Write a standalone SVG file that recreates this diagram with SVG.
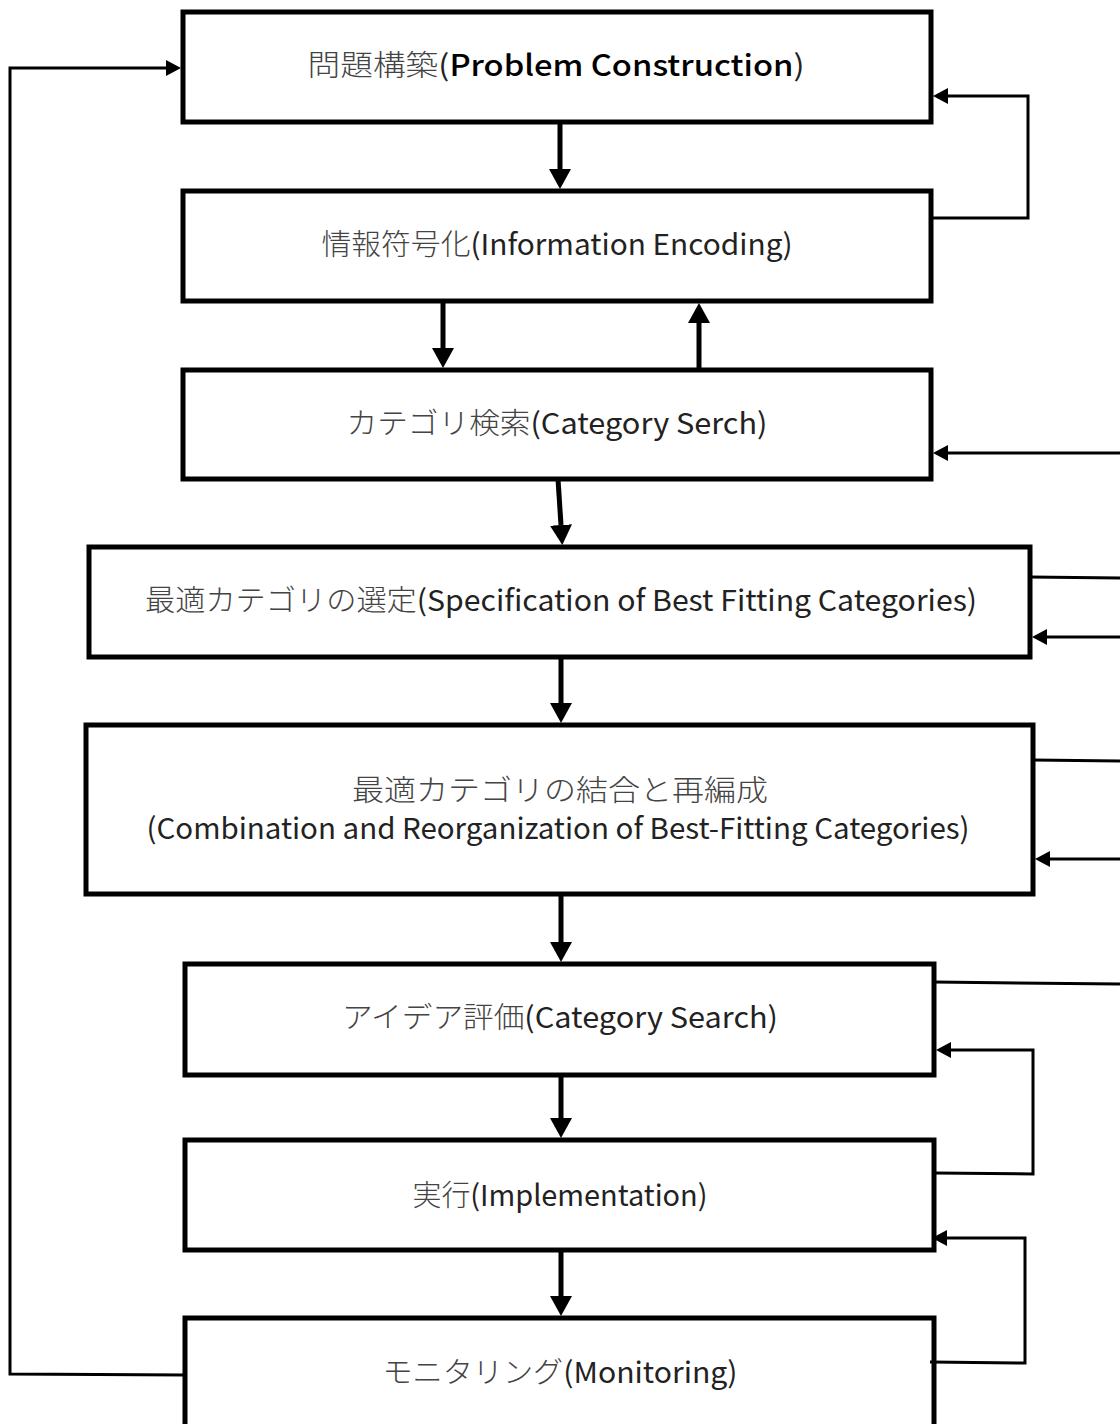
<svg xmlns="http://www.w3.org/2000/svg" width="1120" height="1424" viewBox="0 0 1120 1424">
<style>
.box{fill:#fff;stroke:#000;stroke-width:5}
.t{font-family:"Noto Sans CJK JP","Noto Sans",sans-serif;font-size:29px;fill:#222;text-anchor:middle}
.j{font-weight:300;fill:#444}
.thick{fill:none;stroke:#000;stroke-width:5}
.thin{fill:none;stroke:#000;stroke-width:3}
</style>
<defs>
<marker id="ah" viewBox="0 -11 20 22" refX="0" refY="0" markerWidth="20" markerHeight="22" markerUnits="userSpaceOnUse" orient="auto"><path d="M0,-11 L20,0 L0,11 Z" fill="#000"/></marker>
<marker id="as" viewBox="0 -8 15 16" refX="0" refY="0" markerWidth="15" markerHeight="16" markerUnits="userSpaceOnUse" orient="auto"><path d="M0,-8 L15,0 L0,8 Z" fill="#000"/></marker>
</defs>
<g id="n1"><rect class="box" x="183" y="12" width="748" height="110"/><text class="t" x="556" y="76" textLength="497" lengthAdjust="spacingAndGlyphs"><tspan class="j">問題構築</tspan>(<tspan font-weight="500" fill="#000">Problem Construction</tspan>)</text></g>
<g id="n2"><rect class="box" x="183" y="191" width="748" height="110"/><text class="t" x="557" y="255" textLength="471" lengthAdjust="spacingAndGlyphs"><tspan class="j">情報符号化</tspan>(Information Encoding)</text></g>
<g id="n3"><rect class="box" x="183" y="370" width="748" height="109"/><text class="t" x="557" y="434" textLength="421" lengthAdjust="spacingAndGlyphs"><tspan class="j">カテゴリ検索</tspan>(Category Serch)</text></g>
<g id="n4"><rect class="box" x="89" y="547" width="941" height="110"/><text class="t" x="561" y="611" textLength="832" lengthAdjust="spacingAndGlyphs"><tspan class="j">最適カテゴリの選定</tspan>(Specification of Best Fitting Categories)</text></g>
<g id="n5"><rect class="box" x="86" y="725" width="947" height="169" stroke-width="6"/><text class="t" x="560" y="801" textLength="416" lengthAdjust="spacingAndGlyphs"><tspan class="j">最適カテゴリの結合と再編成</tspan></text><text class="t" x="558" y="839" textLength="823" lengthAdjust="spacingAndGlyphs">(Combination and Reorganization of Best-Fitting Categories)</text></g>
<g id="n6"><rect class="box" x="185" y="964" width="749" height="111"/><text class="t" x="560" y="1028" textLength="436" lengthAdjust="spacingAndGlyphs"><tspan class="j">アイデア評価</tspan>(Category Search)</text></g>
<g id="n7"><rect class="box" x="185" y="1140" width="749" height="110"/><text class="t" x="560" y="1206" textLength="295" lengthAdjust="spacingAndGlyphs"><tspan class="j">実行</tspan>(Implementation)</text></g>
<g id="n8"><rect class="box" x="185" y="1318" width="749" height="130"/><text class="t" x="560" y="1383" textLength="355" lengthAdjust="spacingAndGlyphs"><tspan class="j">モニタリング</tspan>(Monitoring)</text></g>
<g id="connectors">
<line class="thick" x1="560" y1="122" x2="560" y2="169" marker-end="url(#ah)"/>
<line class="thick" x1="443" y1="301" x2="443" y2="348" marker-end="url(#ah)"/>
<line class="thick" x1="699" y1="370" x2="699" y2="323" marker-end="url(#ah)"/>
<line class="thick" x1="558" y1="479" x2="561" y2="525" marker-end="url(#ah)"/>
<line class="thick" x1="561" y1="657" x2="561" y2="703" marker-end="url(#ah)"/>
<line class="thick" x1="561" y1="894" x2="561" y2="942" marker-end="url(#ah)"/>
<line class="thick" x1="561" y1="1075" x2="561" y2="1118" marker-end="url(#ah)"/>
<line class="thick" x1="561" y1="1250" x2="561" y2="1296" marker-end="url(#ah)"/>
<polyline class="thin" points="931,218 1028,218 1028,96 948,96" marker-end="url(#as)"/>
<line class="thin" x1="1120" y1="453" x2="948" y2="453" marker-end="url(#as)"/>
<line class="thin" x1="1030" y1="577" x2="1120" y2="578"/>
<line class="thin" x1="1120" y1="637" x2="1047" y2="637" marker-end="url(#as)"/>
<line class="thin" x1="1033" y1="760" x2="1120" y2="761"/>
<line class="thin" x1="1120" y1="859" x2="1050" y2="859" marker-end="url(#as)"/>
<line class="thin" x1="934" y1="982" x2="1120" y2="984"/>
<polyline class="thin" points="934,1173 1033,1174 1033,1050 951,1050" marker-end="url(#as)"/>
<polyline class="thin" points="930,1362 1025,1363 1025,1238 947,1238" marker-end="url(#as)"/>
<polyline class="thin" points="185,1375 10,1374 10,68 166,68" marker-end="url(#as)"/>
</g>
</svg>
